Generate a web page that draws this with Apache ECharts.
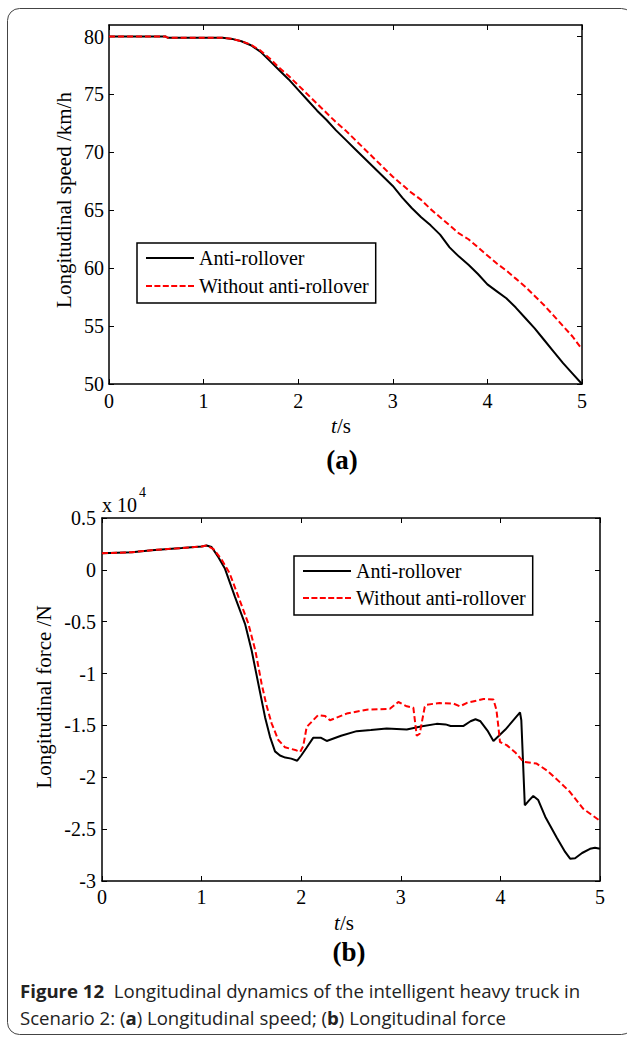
<!DOCTYPE html>
<html>
<head>
<meta charset="utf-8">
<script src="https://cdn.jsdelivr.net/npm/echarts@6/dist/echarts.min.js"></script>
<style>
html,body{margin:0;padding:0;background:#fff;}
#chart{width:627px;height:1038px;}
</style>
</head>
<body>
<div id="chart"></div>
<script>
// ---------- data ----------
const seriesNames = ['Anti-rollover', 'Without anti-rollover'];
const xTicks = [0, 1, 2, 3, 4, 5];
const speedTicks = [50, 55, 60, 65, 70, 75, 80];
const forceTicks = [-3, -2.5, -2, -1.5, -1, -0.5, 0, 0.5];

// (a) Longitudinal speed, km/h
const tSpeed = [0, 0.6, 0.62, 1.2, 1.3, 1.4, 1.5, 1.6, 1.7, 1.8, 1.9, 2.0, 2.1, 2.2, 2.3, 2.4, 2.5, 2.6, 2.7, 2.8, 2.9, 3.0,
  3.1, 3.2, 3.3, 3.4, 3.5, 3.6, 3.7, 3.8, 3.9, 4.0, 4.1, 4.2, 4.3, 4.4, 4.5, 4.6, 4.7, 4.8, 4.9, 5.0];
const speedAnti = [80, 80, 79.9, 79.9, 79.8, 79.6, 79.25, 78.7, 77.9, 77.1, 76.3, 75.4, 74.5, 73.6, 72.8, 71.9, 71.1, 70.3, 69.5, 68.7, 67.9, 67.1,
  66.1, 65.2, 64.4, 63.7, 62.9, 61.8, 61.0, 60.3, 59.5, 58.6, 58.0, 57.4, 56.6, 55.7, 54.8, 53.8, 52.8, 51.8, 50.9, 50.0];
const speedWithout = [80, 80, 79.9, 79.9, 79.8, 79.6, 79.3, 78.8, 78.1, 77.3, 76.6, 75.8, 75.0, 74.2, 73.4, 72.6, 71.9, 71.1, 70.3, 69.5, 68.7, 67.9,
  67.2, 66.5, 65.9, 65.1, 64.4, 63.7, 63.0, 62.5, 61.8, 61.1, 60.4, 59.8, 59.1, 58.4, 57.6, 56.8, 55.9, 55.0, 54.1, 53.0];

// (b) Longitudinal force, x 10^4 N
const tForceAnti = [0, 0.3, 0.5, 0.8, 1.0, 1.05, 1.1, 1.17, 1.235, 1.335, 1.436, 1.503, 1.57, 1.637, 1.687, 1.737, 1.787, 1.84, 1.9, 1.96,
  2.0, 2.05, 2.12, 2.2, 2.256, 2.4, 2.557, 2.7, 2.858, 3.06, 3.2, 3.36, 3.45, 3.5, 3.63, 3.7, 3.75, 3.8, 3.87, 3.93, 4.05, 4.197, 4.21,
  4.245, 4.29, 4.33, 4.38, 4.45, 4.565, 4.65, 4.7, 4.75, 4.82, 4.9, 4.95, 5.0];
const forceAnti = [0.16, 0.17, 0.19, 0.21, 0.225, 0.235, 0.22, 0.12, 0.01, -0.26, -0.52, -0.78, -1.10, -1.42, -1.61, -1.75, -1.79, -1.81, -1.82, -1.84,
  -1.79, -1.72, -1.62, -1.62, -1.65, -1.6, -1.555, -1.545, -1.53, -1.54, -1.51, -1.485, -1.49, -1.505, -1.505, -1.46, -1.44, -1.46, -1.55, -1.65, -1.54, -1.375, -1.45,
  -2.27, -2.22, -2.18, -2.22, -2.38, -2.58, -2.72, -2.785, -2.78, -2.73, -2.69, -2.68, -2.69];
const tForceWithout = [0, 0.3, 0.5, 0.8, 1.0, 1.05, 1.12, 1.2, 1.28, 1.37, 1.47, 1.54, 1.603, 1.65, 1.703, 1.77, 1.837, 1.888, 1.95, 1.99,
  2.02, 2.055, 2.12, 2.17, 2.24, 2.289, 2.457, 2.657, 2.89, 2.975, 3.06, 3.126, 3.16, 3.19, 3.24, 3.26, 3.39, 3.53, 3.594, 3.66, 3.83, 3.93,
  3.96, 3.98, 3.996, 4.063, 4.15, 4.23, 4.364, 4.465, 4.6, 4.699, 4.83, 5.0];
const forceWithout = [0.16, 0.17, 0.19, 0.21, 0.225, 0.235, 0.2, 0.1, -0.03, -0.26, -0.52, -0.78, -1.10, -1.3, -1.48, -1.64, -1.71, -1.724, -1.74, -1.756,
  -1.7, -1.515, -1.45, -1.40, -1.41, -1.45, -1.386, -1.348, -1.34, -1.274, -1.316, -1.329, -1.6, -1.58, -1.322, -1.30, -1.284, -1.29, -1.316, -1.284, -1.245, -1.25,
  -1.35, -1.515, -1.66, -1.69, -1.76, -1.85, -1.868, -1.933, -2.05, -2.142, -2.302, -2.42];

// ---------- chart ----------
const pair = (xs, ys) => xs.map((x, i) => [x, ys[i]]);
const SERIF = 'Liberation Serif';
const SANS = 'Open Sans';
const black = '#000';
const RED = '#ff0000';
// legend glyphs: solid bar and dashed bar (48 x 2)
const solidIcon = 'path://M0,0H48V2H0Z';
const dashedIcon = 'path://M0,0H6V2H0Z M8.4,0H14.4V2H8.4Z M16.8,0H22.8V2H16.8Z M25.2,0H31.2V2H25.2Z M33.6,0H39.6V2H33.6Z M42,0H48V2H42Z';

function xAx(grid, pos, showLabel, margin) {
  return {
    type: 'value', gridIndex: grid, position: pos, min: 0, max: 5, interval: 1,
    axisLine: {show: true, onZero: false, lineStyle: {color: black, width: 1.5}},
    axisTick: {show: true, inside: true, length: 5, lineStyle: {color: black, width: 1}},
    axisLabel: {show: showLabel, margin: margin, color: black, fontFamily: SERIF, fontSize: 20,
      customValues: xTicks},
    splitLine: {show: false}
  };
}
function yAx(grid, pos, showLabel, min, max, ticks, margin) {
  return {
    type: 'value', gridIndex: grid, position: pos, min: min, max: max,
    axisLine: {show: true, onZero: false, lineStyle: {color: black, width: 1.5}},
    axisTick: {show: true, inside: true, length: 5, lineStyle: {color: black, width: 1}, customValues: ticks},
    axisLabel: {show: showLabel, margin: margin, color: black, fontFamily: SERIF, fontSize: 20,
      customValues: ticks, formatter: v => String(v)},
    splitLine: {show: false}
  };
}
function legend(left, top, gap) {
  return {
    orient: 'vertical', left: left, top: top,
    data: [{name: seriesNames[0], icon: solidIcon}, {name: seriesNames[1], icon: dashedIcon}],
    itemWidth: 48, itemHeight: 20, itemGap: gap,
    padding: [5, 7, 7, 9], borderColor: black, borderWidth: 1.5, backgroundColor: '#fff',
    selectedMode: false,
    textStyle: {fontFamily: SERIF, fontSize: 20, color: black}
  };
}
const capRich = {b: {fontWeight: 'bold', fontFamily: SANS, fontSize: 18.6, fill: '#222'}};

const option = {
  animation: false,
  backgroundColor: '#fff',
  grid: [
    {left: 109, top: 25, width: 473, height: 359, outerBoundsMode: 'none', containLabel: false},
    {left: 102, top: 518, width: 498, height: 363, outerBoundsMode: 'none', containLabel: false}
  ],
  xAxis: [xAx(0, 'bottom', true, 7), xAx(0, 'top', false, 7), xAx(1, 'bottom', true, 6), xAx(1, 'top', false, 6)],
  yAxis: [
    yAx(0, 'left', true, 50, 81, speedTicks, 5), yAx(0, 'right', false, 50, 81, speedTicks, 5),
    yAx(1, 'left', true, -3, 0.5, forceTicks, 6), yAx(1, 'right', false, -3, 0.5, forceTicks, 6)
  ],
  legend: [legend(137, 243, 8), legend(294, 556, 7)],
  series: [
    {name: seriesNames[0], type: 'line', xAxisIndex: 0, yAxisIndex: 0, symbol: 'none', z: 3,
      lineStyle: {color: black, width: 2}, itemStyle: {color: black}, data: pair(tSpeed, speedAnti)},
    {name: seriesNames[1], type: 'line', xAxisIndex: 0, yAxisIndex: 0, symbol: 'none', z: 4,
      lineStyle: {color: RED, width: 2, type: [6, 3]}, itemStyle: {color: RED}, data: pair(tSpeed, speedWithout)},
    {name: seriesNames[0], type: 'line', xAxisIndex: 2, yAxisIndex: 2, symbol: 'none', z: 3,
      lineStyle: {color: black, width: 2}, itemStyle: {color: black}, data: pair(tForceAnti, forceAnti)},
    {name: seriesNames[1], type: 'line', xAxisIndex: 2, yAxisIndex: 2, symbol: 'none', z: 4,
      lineStyle: {color: RED, width: 2, type: [6, 3]}, itemStyle: {color: RED}, data: pair(tForceWithout, forceWithout)}
  ],
  graphic: [
    {type: 'rect', shape: {x: 7.5, y: 8.5, width: 626, height: 1026, r: 12}, style: {fill: 'none', stroke: '#444', lineWidth: 1}, silent: true, z: -10},
    {type: 'text', x: 64, y: 200, rotation: Math.PI / 2,
      style: {text: 'Longitudinal speed /km/h', fontFamily: SERIF, fontSize: 21, fill: black, align: 'center', verticalAlign: 'middle'}},
    {type: 'text', x: 44, y: 697, rotation: Math.PI / 2,
      style: {text: 'Longitudinal force /N', fontFamily: SERIF, fontSize: 21, fill: black, align: 'center', verticalAlign: 'middle'}},
    {type: 'text', x: 341, y: 426,
      style: {text: '{i|t}/s', fontFamily: SERIF, fontSize: 21, fill: black, align: 'center', verticalAlign: 'middle',
        rich: {i: {fontStyle: 'italic', fontFamily: SERIF, fontSize: 21, fill: black}}}},
    {type: 'text', x: 344, y: 923,
      style: {text: '{i|t}/s', fontFamily: SERIF, fontSize: 21, fill: black, align: 'center', verticalAlign: 'middle',
        rich: {i: {fontStyle: 'italic', fontFamily: SERIF, fontSize: 21, fill: black}}}},
    {type: 'text', x: 342, y: 460,
      style: {text: '(a)', fontFamily: SERIF, fontWeight: 'bold', fontSize: 27, fill: black, align: 'center', verticalAlign: 'middle'}},
    {type: 'text', x: 349, y: 952,
      style: {text: '(b)', fontFamily: SERIF, fontWeight: 'bold', fontSize: 27, fill: black, align: 'center', verticalAlign: 'middle'}},
    {type: 'text', x: 102, y: 505,
      style: {text: 'x 10', fontFamily: SERIF, fontSize: 20, fill: black, align: 'left', verticalAlign: 'middle'}},
    {type: 'text', x: 139, y: 492,
      style: {text: '4', fontFamily: SERIF, fontSize: 14, fill: black, align: 'left', verticalAlign: 'middle'}},
    {type: 'text', x: 20, y: 990,
      style: {text: '{b|Figure 12}  Longitudinal dynamics of the intelligent heavy truck in', fontFamily: SANS, fontSize: 18.6, fill: '#222',
        align: 'left', verticalAlign: 'middle', rich: capRich}},
    {type: 'text', x: 20, y: 1017,
      style: {text: 'Scenario 2: ({b|a}) Longitudinal speed; ({b|b}) Longitudinal force', fontFamily: SANS, fontSize: 18.6, fill: '#222',
        align: 'left', verticalAlign: 'middle', rich: capRich}}
  ]
};

const chart = echarts.init(document.getElementById('chart'), null, {renderer: 'svg', width: 627, height: 1038});
chart.setOption(option);
</script>
</body>
</html>
